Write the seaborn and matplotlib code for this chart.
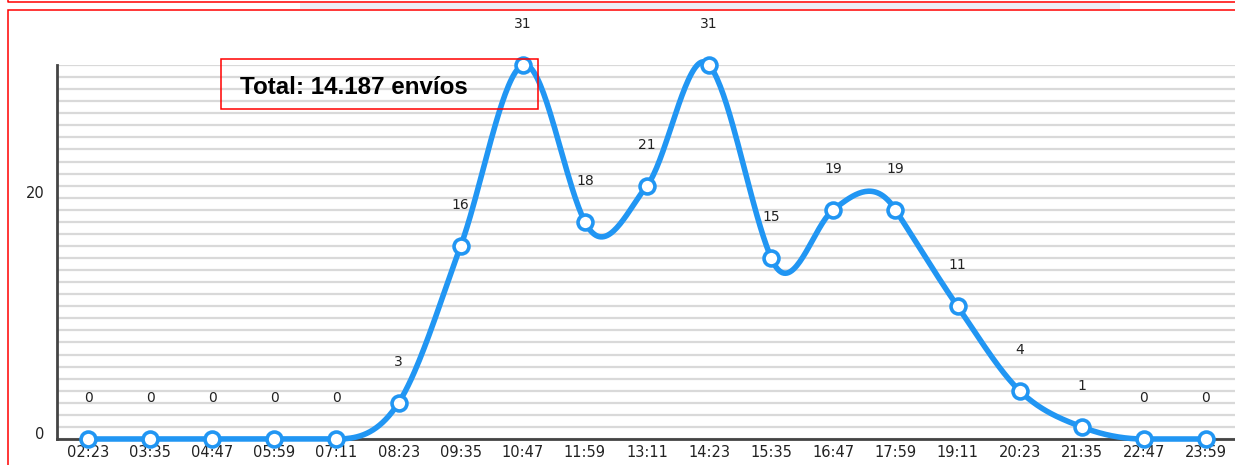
import numpy as np
import pandas as pd
import seaborn as sns
import matplotlib.pyplot as plt
from matplotlib.patches import Rectangle

# datos
horas = ["02:23", "03:35", "04:47", "05:59", "07:11", "08:23", "09:35", "10:47", "11:59", "13:11",
         "14:23", "15:35", "16:47", "17:59", "19:11", "20:23", "21:35", "22:47", "23:59"]
envios = [0, 0, 0, 0, 0, 3, 16, 31, 18, 21, 31, 15, 19, 19, 11, 4, 1, 0, 0]
total_txt = "Total: 14.187 envíos"
yticks = [0, 20]

sns.set_style("white")
plt.rcParams['font.family'] = ['DejaVu Sans']

azul = '#2196f3'
rojo = '#ff0000'

df = pd.DataFrame({'hora': horas, 'envios': envios})
df['pos'] = range(len(df))

fig = plt.figure(figsize=(12.35, 4.65), dpi=100)
ax = fig.add_axes([57 / 1235, 26 / 465, 1180 / 1235, 374 / 465])
ax.set_xlim(-0.5, len(horas) - 0.5)
ax.set_ylim(0, 31)


# curva suavizada tipo spline (hermite), sin bajar del eje
def suavizar(xs, ys, n=40):
    xs = np.asarray(xs, float)
    ys = np.asarray(ys, float)
    m = len(ys)
    tg = np.zeros(m)
    for i in range(1, m - 1):
        if ys[i] == 0:
            continue
        s1 = ys[i] - ys[i - 1]
        s2 = ys[i + 1] - ys[i]
        k = 1.0 if s1 * s2 > 0 else 2.0   # mas tension en picos y valles
        tg[i] = k * (ys[i + 1] - ys[i - 1]) / 2
    t = np.linspace(0, 1, n)
    h00 = 2 * t ** 3 - 3 * t ** 2 + 1
    h10 = t ** 3 - 2 * t ** 2 + t
    h01 = -2 * t ** 3 + 3 * t ** 2
    h11 = t ** 3 - t ** 2
    px, py = [], []
    for i in range(m - 1):
        dx = xs[i + 1] - xs[i]
        px.append(xs[i] + t * dx)
        py.append(h00 * ys[i] + h10 * tg[i] + h01 * ys[i + 1] + h11 * tg[i + 1])
    return np.concatenate(px), np.maximum(np.concatenate(py), 0)


cx, cy = suavizar(df['pos'], df['envios'])
ax.plot(cx, cy, color=azul, lw=4, solid_capstyle='round', clip_on=False, zorder=3)
sns.scatterplot(data=df, x='pos', y='envios', ax=ax, s=115, color='white', edgecolor=azul,
                linewidth=2.6, zorder=4, clip_on=False, legend=False)

for x, v in zip(df['pos'], df['envios']):
    ax.annotate(str(v), (x, v), xytext=(0, 29.5), textcoords='offset points',
                ha='center', va='center', fontsize=10, color='#222', annotation_clip=False)

ax.set_xticks(df['pos'])
ax.set_xticklabels(horas)
ax.set_yticks(yticks)
ax.set_yticks(range(1, 32), minor=True)
ax.grid(axis='y', which='both', color='#d9d9d9', lw=1.6)
ax.set_axisbelow(True)
ax.tick_params(axis='both', which='both', length=0)
ax.tick_params(axis='x', pad=4, labelsize=10.5, labelcolor='#222')
ax.tick_params(axis='y', pad=9, labelsize=10.5, labelcolor='#222')
for l in ax.get_yticklabels():
    l.set_va('baseline')
ax.spines['top'].set_visible(False)
ax.spines['right'].set_visible(False)
for sp in ['left', 'bottom']:
    ax.spines[sp].set_color('#444')
    ax.spines[sp].set_linewidth(2)
ax.set_xlabel('')
ax.set_ylabel('')

# cuadro del total
fig.patches.append(Rectangle((221 / 1235, 1 - 109 / 465), 317 / 1235, 50 / 465, fill=False,
                             ec=rojo, lw=1.1, transform=fig.transFigure, zorder=5))
fig.text(240 / 1235, 1 - 94.5 / 465, total_txt, fontsize=17.4, fontweight='bold',
         family=['Liberation Sans', 'DejaVu Sans'], color='black', va='baseline', zorder=6)

# marcos rojos de la pagina
fig.patches.append(Rectangle((7.5 / 1235, -0.1), 1.2, 1 - 10 / 465 + 0.1, fill=False,
                             ec=rojo, lw=1.1, transform=fig.transFigure, zorder=1))
fig.patches.append(Rectangle((300 / 1235, 1 - 9 / 465), 820 / 1235, 6 / 465, fc='#eceff6',
                             ec='none', transform=fig.transFigure, zorder=0))
fig.lines.append(plt.Line2D([7.5 / 1235, 7.5 / 1235, 1.0], [1.0, 1 - 2 / 465, 1 - 2 / 465],
                            color=rojo, lw=1.1, transform=fig.transFigure))

fig.savefig('out.png', dpi=100)
